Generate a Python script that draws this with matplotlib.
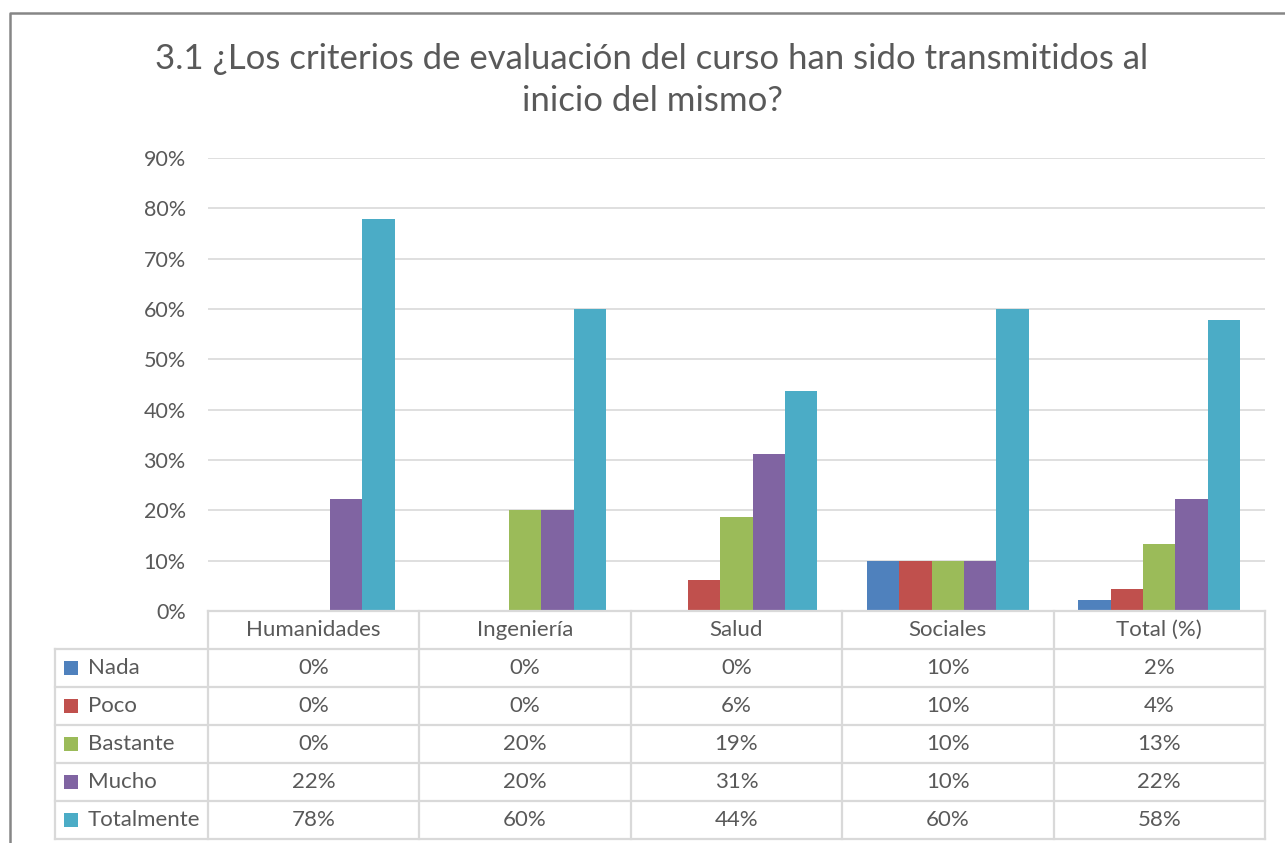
import matplotlib

matplotlib.use("Agg")
import matplotlib.pyplot as plt
import numpy as np

categories = ["Humanidades", "Ingeniería", "Salud", "Sociales", "Total (%)"]
series = ["Nada", "Poco", "Bastante", "Mucho", "Totalmente"]
nada = [0.0, 0.0, 0.0, 10.0, 2.2]
poco = [0.0, 0.0, 6.25, 10.0, 4.4]
bastante = [0.0, 20.0, 18.75, 10.0, 13.3]
mucho = [22.2, 20.0, 31.25, 10.0, 22.2]
totalmente = [77.8, 60.0, 43.75, 60.0, 57.8]
colors = ["#4F81BD", "#C0504D", "#9BBB59", "#8064A2", "#4BACC6"]
title = "3.1 ¿Los criterios de evaluación del curso han sido transmitidos al\ninicio del mismo?"

values = [nada, poco, bastante, mucho, totalmente]
TEXT = "#595959"
GRID = "#d9d9d9"
W, H = 1285, 843
FONT = "Lato"
FS = 16

plt.rcParams["font.family"] = [FONT, "DejaVu Sans"]

fig = plt.figure(figsize=(W / 100, H / 100), dpi=100)

# pixel layout
px_left, px_right = 208, 1265
px_zero, px_top = 611, 158
row_h = 38
tab_left = 55

ax = fig.add_axes([px_left / W, 1 - px_zero / H, (px_right - px_left) / W, (px_zero - px_top) / H])
n_cat = len(categories)
bw = 0.153
x = np.arange(n_cat)
for j, (name, vals) in enumerate(zip(series, values)):
    ax.bar(x + (j - 2) * bw, vals, width=bw, color=colors[j], zorder=3, linewidth=0)
ax.set_xlim(-0.5, n_cat - 0.5)
ax.set_ylim(0, 90)
ax.set_yticks(np.arange(0, 91, 10))
ax.set_yticklabels([f"{int(v)}%" for v in np.arange(0, 91, 10)])
ax.tick_params(axis="y", length=0, pad=16, labelsize=15.5, labelcolor=TEXT)
ax.set_xticks([])
ax.grid(axis="y", color=GRID, linewidth=1.2, zorder=0)
for s in ax.spines.values():
    s.set_visible(False)

# overlay for frame and title
ov = fig.add_axes([0, 0, 1, 1], zorder=-1)
ov.set_xlim(0, W)
ov.set_ylim(H, 0)
ov.axis("off")
ov.plot([10, 10, W], [H, 13, 13], color="#868686", linewidth=1.8)
ov.text(652, 80, title, ha="center", va="center", fontsize=25, color=TEXT, linespacing=1.42)

# data table below the plot
tab = fig.add_axes([0, 0, 1, 1], zorder=5)
tab.set_xlim(0, W)
tab.set_ylim(H, 0)
tab.axis("off")
col_w = (px_right - px_left) / n_cat
lw = 1.6
tab_bottom = px_zero + row_h * (len(series) + 1)
tab.plot([px_left, px_right], [px_zero, px_zero], color=GRID, linewidth=lw)
for r in range(1, len(series) + 2):
    y = px_zero + r * row_h
    tab.plot([tab_left, px_right], [y, y], color=GRID, linewidth=lw)
for c in range(n_cat + 1):
    xx = px_left + c * col_w
    tab.plot([xx, xx], [px_zero, tab_bottom], color=GRID, linewidth=lw)
tab.plot([tab_left, tab_left], [px_zero + row_h, tab_bottom], color=GRID, linewidth=lw)

for c, cat in enumerate(categories):
    tab.text(px_left + (c + 0.5) * col_w, px_zero + row_h / 2, cat,
             ha="center", va="center", fontsize=FS, color=TEXT)
for r, (name, vals) in enumerate(zip(series, values)):
    yc = px_zero + (r + 1.5) * row_h
    tab.add_patch(plt.Rectangle((64, yc - 7), 14, 14, color=colors[r], linewidth=0))
    tab.text(88, yc, name, ha="left", va="center", fontsize=FS, color=TEXT)
    for c, v in enumerate(vals):
        tab.text(px_left + (c + 0.5) * col_w, yc, f"{v:.0f}%",
                 ha="center", va="center", fontsize=FS, color=TEXT)

fig.savefig("out.png", dpi=100)
